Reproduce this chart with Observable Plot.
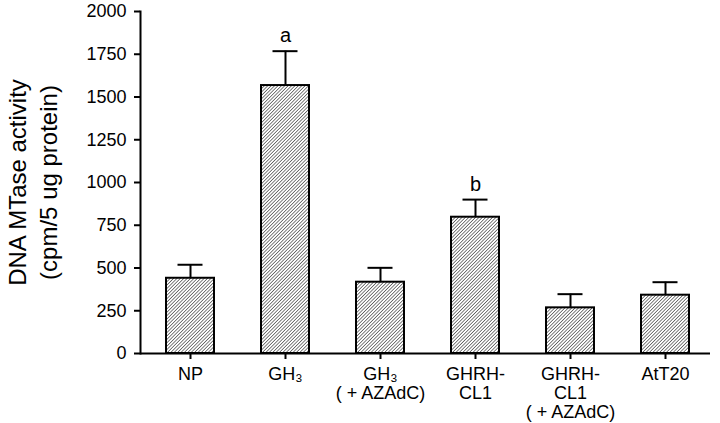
<!DOCTYPE html>
<html><head><meta charset="utf-8">
<script src="https://cdn.jsdelivr.net/npm/d3@7"></script>
<script src="https://cdn.jsdelivr.net/npm/@observablehq/plot@0.6"></script>
<style>body{margin:0;background:#fff}</style>
</head><body><div id="chart"></div>
<script>
const categories = ["NP", "GH3", "GH3+AZAdC", "GHRH-CL1", "GHRH-CL1+AZAdC", "AtT20"];
const tickLabels = ["NP", "GH₃", "GH₃\n( + AZAdC)", "GHRH-\nCL1", "GHRH-\nCL1\n( + AZAdC)", "AtT20"];
const means = [440, 1567, 417, 797, 267, 341];
const errTops = [519, 1768, 501, 900, 347, 417];
const sigLabels = ["", "a", "", "b", "", ""];
const yTicks = [0, 250, 500, 750, 1000, 1250, 1500, 1750, 2000];
const yTitle = ["DNA MTase activity\n(cpm/5 ug protein)"];

const data = categories.map((c, i) => ({cat: c, mean: means[i], err: errTops[i], sig: sigLabels[i]}));
const font = "'Liberation Sans', Arial, Helvetica, sans-serif";

const svg = Plot.plot({
  width: 720, height: 423,
  marginLeft: 140, marginRight: 5, marginTop: 11, marginBottom: 70,
  style: {fontFamily: font, fontSize: "18px", background: "white", color: "black"},
  x: {domain: categories, paddingInner: 0.5, paddingOuter: 0.25},
  y: {domain: [0, 2000]},
  marks: [
    Plot.barY(data, {x: "cat", y: "mean", fill: "url(#hatch)", stroke: "black", strokeWidth: 2}),
    Plot.ruleX(data, {x: "cat", y1: "mean", y2: "err", stroke: "black", strokeWidth: 2}),
    Plot.tickY(data, {x: "cat", y: "err", insetLeft: 11.5, insetRight: 11.5, stroke: "black", strokeWidth: 2}),
    Plot.text(data.filter(d => d.sig), {x: "cat", y: "err", text: "sig", dy: -9, lineAnchor: "bottom", fontSize: 20, fill: "black"}),
    Plot.axisY({ticks: yTicks, tickFormat: d => String(d), tickSize: 6, tickPadding: 8, label: null, strokeWidth: 2}),
    Plot.axisX({tickFormat: d => tickLabels[categories.indexOf(d)], tickSize: 6, tickPadding: 7, lineHeight: 1.05, label: null, strokeWidth: 2}),
    Plot.frame({anchor: "left", strokeWidth: 2}),
    Plot.ruleY([0], {insetRight: 5, strokeWidth: 2}),
    Plot.text(yTitle, {text: d => d, frameAnchor: "left", rotate: -90, dx: -137, lineAnchor: "top", textAnchor: "middle", fontSize: 24, lineHeight: 1.3, fill: "black"})
  ]
});

const defs = d3.select(svg).insert("defs", ":first-child");
const pat = defs.append("pattern")
  .attr("id", "hatch")
  .attr("patternUnits", "userSpaceOnUse")
  .attr("width", 2.4).attr("height", 2.4)
  .attr("patternTransform", "rotate(45)");
pat.append("rect").attr("width", 2.4).attr("height", 2.4).attr("fill", "white");
pat.append("line").attr("x1", 0).attr("y1", 0).attr("x2", 0).attr("y2", 2.4)
  .attr("stroke", "black").attr("stroke-width", 1);

document.getElementById("chart").appendChild(svg);
</script>
</body></html>
